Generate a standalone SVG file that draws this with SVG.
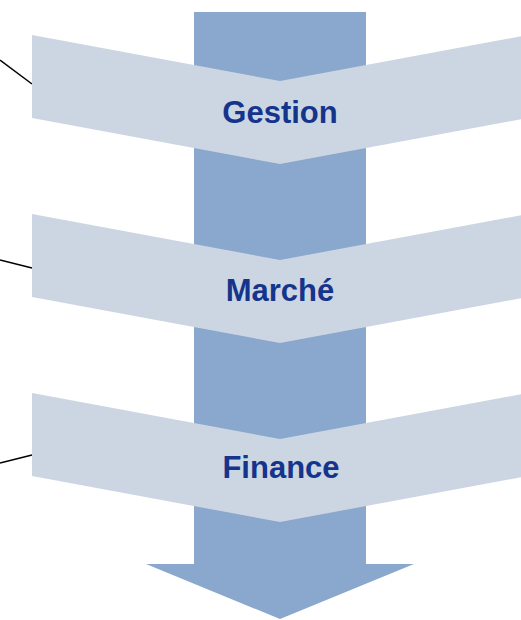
<svg xmlns="http://www.w3.org/2000/svg" width="521" height="620" viewBox="0 0 521 620">
<style>
.chev{fill:#ccd6e3;}
.lbl{font-family:"Liberation Sans",Arial,sans-serif;font-weight:bold;font-size:31px;fill:#15348b;text-anchor:middle;}
.conn{stroke:#000;stroke-width:1.5;fill:none;}
</style>
<rect width="521" height="620" fill="#fff"/>
<g id="arrow">
<polygon points="194,12 366,12 366,564 414,564 280,619 146,564 194,564" fill="#8aa7cd"/>
</g>
<g id="connectors">
<line class="conn" x1="0" y1="60" x2="32" y2="84"/>
<line class="conn" x1="0" y1="260" x2="32" y2="268"/>
<line class="conn" x1="0" y1="463" x2="32" y2="455"/>
</g>
<g id="gestion">
<polygon class="chev" points="32,35 280,81 528,35 528,118 280,164 32,118"/>
<text class="lbl" x="280" y="123">Gestion</text>
</g>
<g id="marche">
<polygon class="chev" points="32,214 280,260 528,214 528,297 280,343 32,297"/>
<text class="lbl" x="280" y="301">Marché</text>
</g>
<g id="finance">
<polygon class="chev" points="32,393 280,439 528,393 528,476 280,522 32,476"/>
<text class="lbl" x="281" y="478">Finance</text>
</g>
</svg>
